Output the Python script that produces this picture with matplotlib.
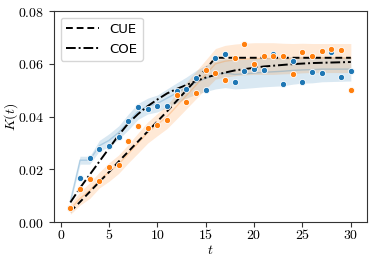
import numpy as np
import matplotlib
matplotlib.use("Agg")
import matplotlib.pyplot as plt

plt.rcParams['mathtext.fontset'] = 'cm'

t = np.arange(1, 31)

# измеренные точки
k_blue = [0.0055, 0.0166, 0.0244, 0.0277, 0.0288, 0.0323, 0.0383, 0.0436, 0.0429, 0.0439,
          0.0439, 0.0499, 0.0505, 0.0545, 0.0502, 0.0622, 0.0636, 0.0533, 0.0572, 0.0580,
          0.0575, 0.0639, 0.0522, 0.0609, 0.0531, 0.0568, 0.0566, 0.0643, 0.0551, 0.0574]
k_orange = [0.0053, 0.0125, 0.0162, 0.0155, 0.0209, 0.0215, 0.0308, 0.0366, 0.0356, 0.0370,
            0.0387, 0.0483, 0.0457, 0.0489, 0.0576, 0.0564, 0.0540, 0.0623, 0.0675, 0.0598,
            0.0628, 0.0628, 0.0628, 0.0563, 0.0645, 0.0630, 0.0649, 0.0655, 0.0652, 0.0500]

# полосы (центр и полуширина)
band_blue = [0.0080, 0.0235, 0.0235, 0.0290, 0.0310, 0.0340, 0.0380, 0.0420, 0.0440, 0.0450,
             0.0470, 0.0490, 0.0510, 0.0530, 0.0545, 0.0560, 0.0565, 0.0560, 0.0562, 0.0565,
             0.0568, 0.0570, 0.0572, 0.0575, 0.0577, 0.0578, 0.0580, 0.0580, 0.0580, 0.0580]
hw_blue = [0.0010, 0.0015, 0.0015, 0.0020, 0.0025, 0.0025, 0.0030, 0.0030, 0.0030, 0.0032,
           0.0035, 0.0038, 0.0040, 0.0045, 0.0050, 0.0055, 0.0055, 0.0055, 0.0055, 0.0055,
           0.0055, 0.0055, 0.0055, 0.0052, 0.0050, 0.0050, 0.0048, 0.0047, 0.0046, 0.0045]
band_orange = [0.0050, 0.0090, 0.0120, 0.0160, 0.0190, 0.0220, 0.0260, 0.0300, 0.0340, 0.0370,
               0.0400, 0.0440, 0.0480, 0.0520, 0.0560, 0.0600, 0.0610, 0.0615, 0.0618, 0.0620,
               0.0620, 0.0620, 0.0620, 0.0620, 0.0622, 0.0622, 0.0622, 0.0622, 0.0622, 0.0622]
hw_orange = [0.0020, 0.0025, 0.0030, 0.0030, 0.0035, 0.0035, 0.0035, 0.0038, 0.0040, 0.0042,
             0.0045, 0.0048, 0.0050, 0.0052, 0.0055, 0.0058, 0.0060, 0.0060, 0.0060, 0.0060,
             0.0060, 0.0060, 0.0058, 0.0057, 0.0056, 0.0055, 0.0055, 0.0055, 0.0055, 0.0055]

# модельные кривые
cue = [0.0040, 0.0077, 0.0115, 0.0153, 0.0190, 0.0230, 0.0268, 0.0306, 0.0344, 0.0382,
       0.0420, 0.0460, 0.0500, 0.0540, 0.0580, 0.0623, 0.0623, 0.0623, 0.0623, 0.0623,
       0.0623, 0.0623, 0.0623, 0.0623, 0.0623, 0.0623, 0.0623, 0.0623, 0.0623, 0.0623]
coe = [0.0075, 0.0130, 0.0180, 0.0230, 0.0280, 0.0330, 0.0375, 0.0410, 0.0440, 0.0465,
       0.0488, 0.0505, 0.0520, 0.0535, 0.0548, 0.0558, 0.0567, 0.0575, 0.0580, 0.0585,
       0.0590, 0.0593, 0.0596, 0.0599, 0.0601, 0.0603, 0.0604, 0.0605, 0.0606, 0.0607]

xt = [0, 5, 10, 15, 20, 25, 30]
yt = [0.00, 0.02, 0.04, 0.06, 0.08]

fig = plt.figure(figsize=(3.74, 2.63), dpi=100)
ax = fig.add_axes([0.1444, 0.155, 0.8376, 0.803])

for c, hw, col in [(band_blue, hw_blue, 'C0'), (band_orange, hw_orange, 'C1')]:
    c = np.array(c)
    hw = np.array(hw)
    ax.fill_between(t, c - hw, c + hw, color=col, alpha=0.17, lw=0)
    ax.plot(t, c, color=col, alpha=0.25, lw=1)

ax.plot(t, cue, 'k--', lw=1.4, dashes=(3.5, 2), label='CUE')
ax.plot(t, coe, 'k-.', lw=1.4, dashes=(5, 1.5, 1, 1.5), label='COE')

ax.scatter(t, k_blue, s=20, color='C0', edgecolor='white', linewidth=0.6, zorder=3)
ax.scatter(t, k_orange, s=20, color='C1', edgecolor='white', linewidth=0.6, zorder=3)

ax.set_xlim(-0.69, 31.7)
ax.set_ylim(0, 0.08)
ax.set_xticks(xt)
ax.set_xticklabels(['$%d$' % v for v in xt], fontsize=10)
ax.set_yticks(yt)
ax.set_yticklabels(['$%.2f$' % v for v in yt], fontsize=10)
ax.set_xlabel('$t$', fontsize=10)
ax.set_ylabel('$K(t)$', fontsize=10)
ax.xaxis.set_label_coords(0.5, -0.1)
ax.yaxis.set_label_coords(-0.11, 0.5)
for s in ax.spines.values():
    s.set_color('#333333')
ax.tick_params(length=3.5, color='#333333')
ax.tick_params(axis='x', pad=0.5)
ax.legend(loc='upper left', fontsize=9.5, handlelength=2.5)

fig.savefig('out.png', dpi=100)
